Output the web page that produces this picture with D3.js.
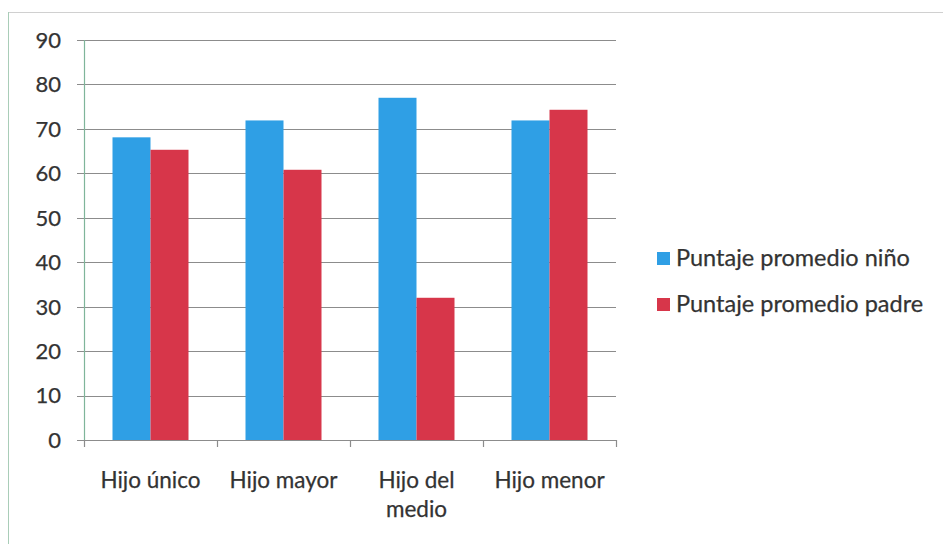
<!DOCTYPE html>
<html><head><meta charset="utf-8">
<script src="https://cdn.jsdelivr.net/npm/d3@7"></script>
<style>body{margin:0;background:#fff}svg{display:block}text{font-family:Lato,"Open Sans",sans-serif;fill:#333;stroke:#333;stroke-width:0.25px}</style>
</head><body><svg id="c" width="943" height="544"></svg>
<script>
const categories = ["Hijo único", "Hijo mayor", "Hijo del medio", "Hijo menor"];
const categoryLines = [["Hijo único"], ["Hijo mayor"], ["Hijo del", "medio"], ["Hijo menor"]];
const seriesNames = ["Puntaje promedio niño", "Puntaje promedio padre"];
const ninoValues = [68.1, 71.9, 77.0, 71.9];
const padreValues = [65.3, 60.8, 32.0, 74.3];
const yTicks = [0, 10, 20, 30, 40, 50, 60, 70, 80, 90];
const colors = ["#2f9fe5", "#d7364a"];

const svg = d3.select("#c");
const m = {left: 84, right: 616, top: 40, bottom: 440};

// chart frame
svg.append("line").attr("x1", 8).attr("x2", 943).attr("y1", 12.5).attr("y2", 12.5).attr("stroke", "#d0d0d0");
svg.append("line").attr("x1", 8.5).attr("x2", 8.5).attr("y1", 12).attr("y2", 544).attr("stroke", "#a9cdb8");

const x = d3.scaleBand().domain(categories).range([m.left, m.right]).paddingInner(0).paddingOuter(0);
const y = d3.scaleLinear().domain([0, 90]).range([m.bottom, m.top]);
const xs = d3.scaleBand().domain([0, 1]).range([0, x.bandwidth()]).paddingInner(0).paddingOuter(0.75);

// gridlines
svg.append("g").selectAll("line").data(yTicks).join("line")
  .attr("x1", m.left - 7).attr("x2", m.right)
  .attr("y1", d => Math.round(y(d)) + 0.5).attr("y2", d => Math.round(y(d)) + 0.5)
  .attr("stroke", "#8c8c8c").attr("stroke-width", 1.2);

// y labels
svg.append("g").selectAll("text").data(yTicks).join("text")
  .attr("x", 61).attr("y", d => y(d)).attr("dy", "0.36em")
  .attr("text-anchor", "end").attr("font-size", 22).text(d => d);

// bars
const series = [ninoValues, padreValues];
series.forEach((vals, si) => {
  svg.append("g").selectAll("rect").data(categories).join("rect")
    .attr("x", (c) => x(c) + xs(si))
    .attr("width", xs.bandwidth())
    .attr("y", (c, i) => y(vals[i]))
    .attr("height", (c, i) => y(0) - y(vals[i]))
    .attr("fill", colors[si]);
});

// y axis line
svg.append("line").attr("x1", m.left + 0.5).attr("x2", m.left + 0.5).attr("y1", m.top).attr("y2", m.bottom)
  .attr("stroke", "#7fb59a").attr("stroke-width", 1.2);
// x axis line + ticks
svg.append("line").attr("x1", m.left).attr("x2", m.right).attr("y1", m.bottom + 0.5).attr("y2", m.bottom + 0.5)
  .attr("stroke", "#8c8c8c").attr("stroke-width", 1.2);
const bounds = categories.map(c => x(c)).concat([x(categories[categories.length - 1]) + x.bandwidth()]);
svg.append("g").selectAll("line").data(bounds).join("line")
  .attr("x1", d => Math.round(d) + 0.5).attr("x2", d => Math.round(d) + 0.5)
  .attr("y1", m.bottom).attr("y2", m.bottom + 7).attr("stroke", "#8c8c8c").attr("stroke-width", 1.2);

// category labels
const cl = svg.append("g").selectAll("text").data(categories).join("text")
  .attr("x", c => x(c) + x.bandwidth() / 2).attr("y", 488)
  .attr("text-anchor", "middle").attr("font-size", 22.5);
cl.each(function(c, i) {
  d3.select(this).selectAll("tspan").data(categoryLines[i]).join("tspan")
    .attr("x", x(c) + x.bandwidth() / 2).attr("dy", (d, j) => j === 0 ? 0 : 29).text(d => d);
});

// legend
const lg = svg.append("g").selectAll("g").data(seriesNames).join("g")
  .attr("transform", (d, i) => `translate(657,${252 + i * 46})`);
lg.append("rect").attr("width", 13).attr("height", 13).attr("fill", (d, i) => colors[i]);
lg.append("text").attr("x", 19).attr("y", 13.5).attr("font-size", 23.5).text(d => d);
</script></body></html>
